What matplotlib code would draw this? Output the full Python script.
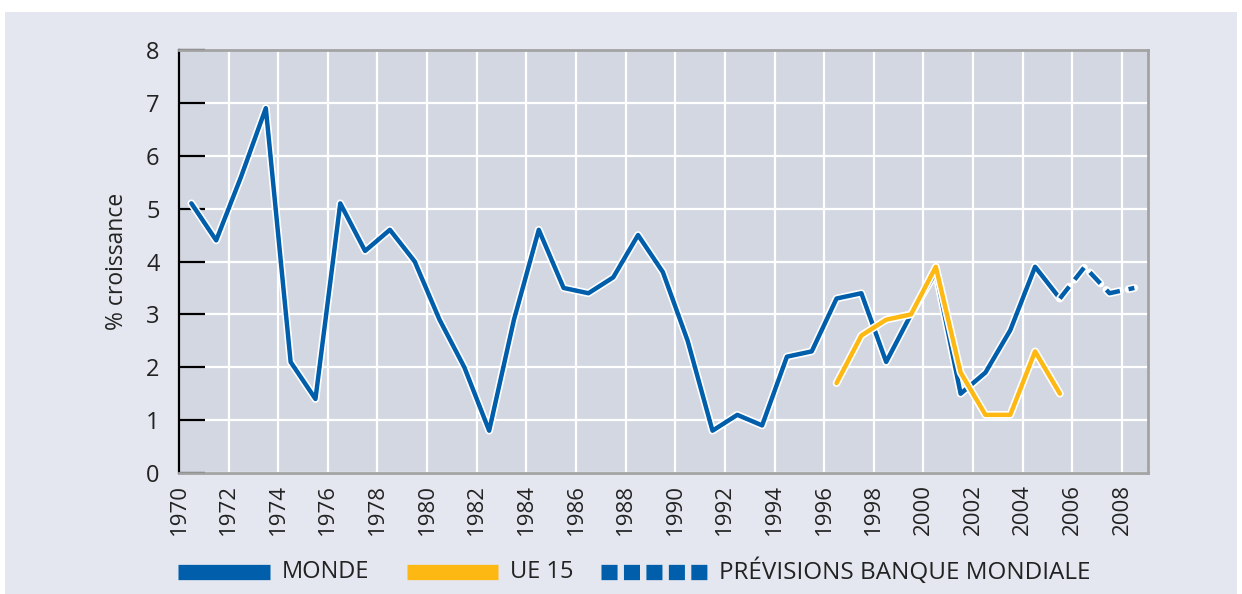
import matplotlib
matplotlib.use('Agg')
import matplotlib.pyplot as plt
import matplotlib.patheffects as pe
from matplotlib.lines import Line2D
from matplotlib.patches import Rectangle

# data (growth in %, values plotted mid-year)
years_monde = list(range(1970, 2006))
monde = [5.1, 4.4, 5.6, 6.9, 2.1, 1.4, 5.1, 4.2, 4.6, 4.0,
         2.9, 2.0, 0.8, 2.9, 4.6, 3.5, 3.4, 3.7, 4.5, 3.8,
         2.5, 0.8, 1.1, 0.9, 2.2, 2.3, 3.3, 3.4, 2.1, 3.0,
         3.8, 1.5, 1.9, 2.7, 3.9, 3.3]
years_ue = list(range(1996, 2006))
ue15 = [1.7, 2.6, 2.9, 3.0, 3.9, 1.9, 1.1, 1.1, 2.3, 1.5]
years_prev = [2005, 2006, 2007, 2008]
previsions = [3.3, 3.9, 3.4, 3.5]

year_ticks = list(range(1970, 2009, 2))
y_ticks = list(range(0, 9))

BLUE = '#005eab'
YELLOW = '#fdb813'
BG = '#e4e7ef'
PLOT_BG = '#d3d7e1'
TXT = '#222222'

plt.rcParams['font.family'] = ['Open Sans', 'DejaVu Sans']

fig = plt.figure(figsize=(12.42, 5.94), dpi=100)
fig.patch.set_facecolor('white')
fig.add_artist(Rectangle((0.004, 0.0), 0.992, 0.98, transform=fig.transFigure,
                         facecolor=BG, edgecolor='none', zorder=-10))

ax = fig.add_axes([0.1441, 0.2037, 0.7802, 0.7121])
ax.set_facecolor(PLOT_BG)

outline = [pe.Stroke(linewidth=5.6, foreground='white', joinstyle='round',
                     capstyle='round'), pe.Normal()]
xm = [y + 0.5 for y in years_monde]
xu = [y + 0.5 for y in years_ue]
xp = [y + 0.5 for y in years_prev]
ax.plot(xm, monde, color=BLUE, lw=3.2, path_effects=outline, zorder=3,
        solid_joinstyle='round', solid_capstyle='round')
ax.plot(xu, ue15, color=YELLOW, lw=3.2, path_effects=outline, zorder=4,
        solid_joinstyle='round', solid_capstyle='round')
ax.plot(xp, previsions, color=BLUE, lw=3.2, dashes=(3.4, 2.0),
        path_effects=outline, zorder=3)

ax.set_xlim(1970, 2009.05)
ax.set_ylim(0, 8)
ax.set_xticks(year_ticks)
ax.set_xticklabels([str(y) for y in year_ticks], rotation=90, fontsize=16,
                   color=TXT)
ax.set_yticks(y_ticks)
ax.set_yticklabels([str(v) for v in y_ticks], fontsize=17, color=TXT)
ax.tick_params(axis='x', length=0, pad=8)
ax.tick_params(axis='y', direction='in', length=19, width=1.6, color='black',
               pad=14)
ax.grid(True, color='white', lw=1.6, zorder=1)
ax.set_axisbelow(True)

for side in ['top', 'bottom', 'right']:
    ax.spines[side].set_color('#a3a3a3')
    ax.spines[side].set_linewidth(2)
ax.spines['left'].set_color('black')
ax.spines['left'].set_linewidth(1.6)

ax.set_ylabel('% croissance', fontsize=16.5, color=TXT, labelpad=12)

# legend drawn along the bottom
ly = 0.037
fig.add_artist(Line2D([0.1433, 0.2174], [ly, ly], transform=fig.transFigure,
                      color=BLUE, lw=11, solid_capstyle='butt'))
fig.text(0.2270, ly, 'MONDE', fontsize=17, va='center', color=TXT)
fig.add_artist(Line2D([0.3277, 0.4010], [ly, ly], transform=fig.transFigure,
                      color=YELLOW, lw=11, solid_capstyle='butt'))
fig.text(0.4110, ly, 'UE 15', fontsize=17, va='center', color=TXT)
fig.add_artist(Line2D([0.4840, 0.5700], [ly, ly], transform=fig.transFigure,
                      color=BLUE, lw=11, solid_capstyle='butt',
                      dashes=(1.05, 0.42)))
fig.text(0.5790, ly, 'PRÉVISIONS BANQUE MONDIALE', fontsize=17.5, va='center',
         color=TXT)

fig.savefig('out.png', dpi=100, facecolor=fig.get_facecolor())
